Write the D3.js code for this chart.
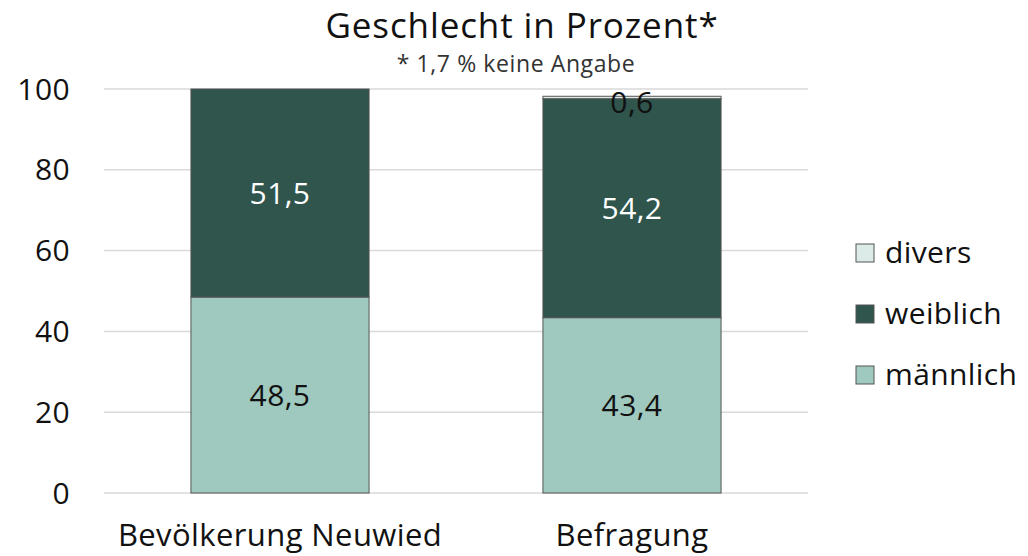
<!DOCTYPE html>
<html>
<head>
<meta charset="utf-8">
<script src="https://cdn.jsdelivr.net/npm/d3@7"></script>
<style>
  body { margin: 0; background: #fff; }
  text { font-family: "Open Sans", Lato, sans-serif; fill: #111; letter-spacing: 0.4px; }
</style>
</head>
<body>
<div id="chart"></div>
<script>
const categories = ["Bevölkerung Neuwied", "Befragung"];
const series = ["männlich", "weiblich", "divers"];
const maennlich = [48.5, 43.4];
const weiblich = [51.5, 54.2];
const divers = [0, 0.6];
const yTicks = [0, 20, 40, 60, 80, 100];
const colors = ["#9fc9bf", "#2f554d", "#dcebe7"];
const labelColors = ["#111", "#fff", "#111"];

const width = 1028, height = 556;
const svg = d3.select("#chart").append("svg")
  .attr("width", width).attr("height", height);

const x = d3.scaleBand().domain(categories).range([104, 808])
  .paddingInner(0.494).paddingOuter(0.247);
const y = d3.scaleLinear().domain([0, 100]).range([493, 89]);

// gridlines
svg.append("g").selectAll("line").data(yTicks).join("line")
  .attr("x1", 104).attr("x2", 808)
  .attr("y1", d => y(d)).attr("y2", d => y(d))
  .attr("stroke", "#d9d9d9").attr("stroke-width", 1.5);

svg.append("g").selectAll("text").data(yTicks).join("text")
  .attr("x", 70).attr("y", d => y(d)).attr("dy", "0.35em")
  .attr("text-anchor", "end").style("font-size", "30px")
  .text(d => d);

const table = categories.map((c, i) => ({
  cat: c, "männlich": maennlich[i], "weiblich": weiblich[i], "divers": divers[i]
}));
const stacked = d3.stack().keys(series)(table);

stacked.forEach((layer, li) => {
  const g = svg.append("g");
  g.selectAll("rect").data(layer.filter(d => d[1] - d[0] > 0)).join("rect")
    .attr("x", d => x(d.data.cat))
    .attr("width", x.bandwidth())
    .attr("y", d => y(d[1]))
    .attr("height", d => y(d[0]) - y(d[1]))
    .attr("fill", colors[li])
    .attr("stroke", "#555").attr("stroke-width", 1);
  g.selectAll("text").data(layer.filter(d => d[1] - d[0] > 0)).join("text")
    .attr("x", d => x(d.data.cat) + x.bandwidth() / 2)
    .attr("y", d => li === 2 ? y(d[1]) + 6 : (y(d[0]) + y(d[1])) / 2)
    .attr("dy", "0.35em")
    .attr("text-anchor", "middle").style("font-size", "30px")
    .style("fill", labelColors[li])
    .text(d => d3.format(".1f")(d[1] - d[0]).replace(".", ","));
});

// category labels
svg.append("g").selectAll("text").data(categories).join("text")
  .attr("x", d => x(d) + x.bandwidth() / 2).attr("y", 546)
  .attr("text-anchor", "middle").style("font-size", "31px")
  .text(d => d);

// title
svg.append("text").attr("x", 522).attr("y", 38).attr("text-anchor", "middle")
  .style("font-size", "35px").style("letter-spacing", "0.9px")
  .text("Geschlecht in Prozent*");
svg.append("text").attr("x", 516).attr("y", 72).attr("text-anchor", "middle")
  .style("font-size", "23px").style("letter-spacing", "0.6px")
  .style("fill", "#333").text("* 1,7 % keine Angabe");

// legend
const legendOrder = [2, 1, 0];
const lg = svg.append("g").selectAll("g").data(legendOrder).join("g")
  .attr("transform", (d, i) => `translate(856, ${253 + i * 61})`);
lg.append("rect").attr("x", 0).attr("y", -9).attr("width", 18).attr("height", 18)
  .attr("fill", d => colors[d]).attr("stroke", "#555").attr("stroke-width", 1);
lg.append("text").attr("x", 29).attr("y", 0).attr("dy", "0.32em")
  .style("font-size", "30px").text(d => series[d]);
</script>
</body>
</html>
